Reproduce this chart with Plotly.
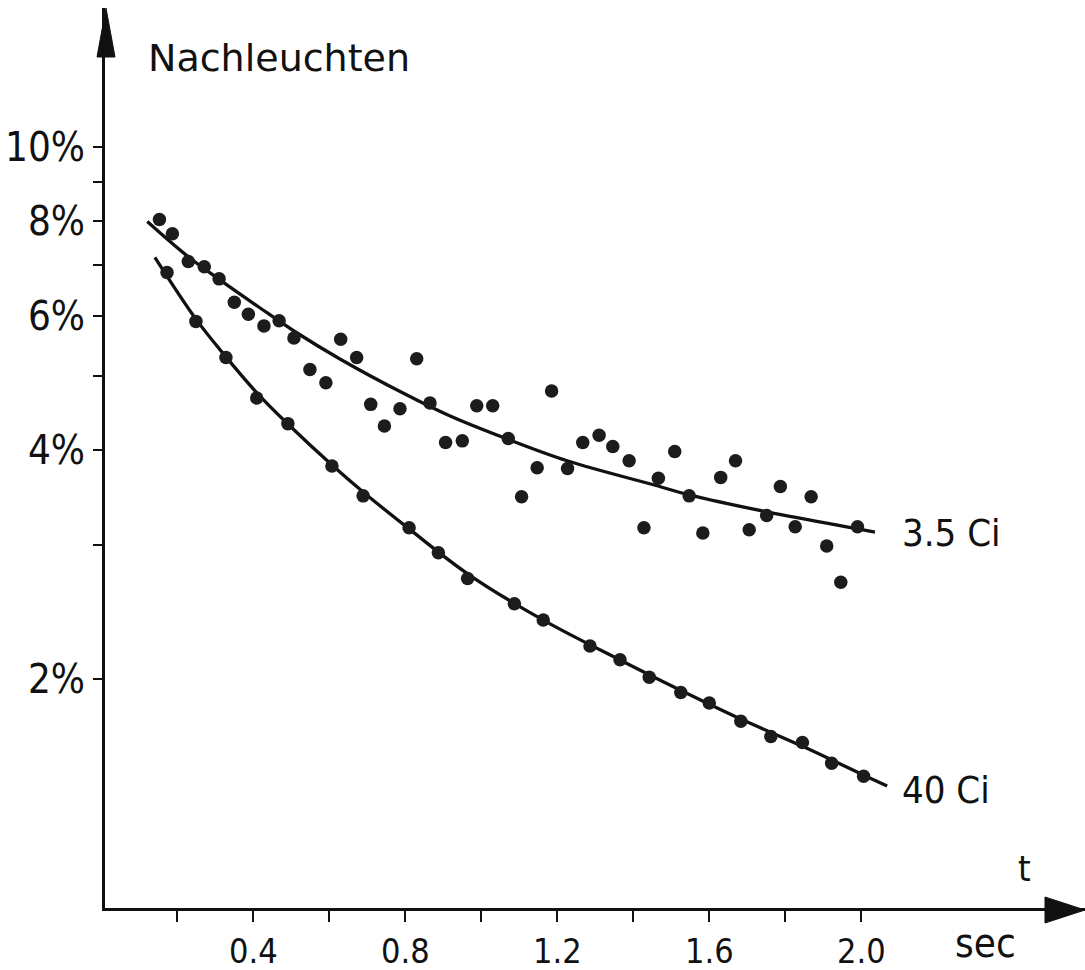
import plotly.graph_objects as go

# ---------------- data ----------------
# 3.5 Ci measurements: time (s) and afterglow (%)
t_35 = [0.153, 0.187, 0.229, 0.271, 0.310, 0.350, 0.387, 0.428, 0.468, 0.507,
        0.549, 0.591, 0.630, 0.672, 0.709, 0.745, 0.786, 0.830, 0.865, 0.906,
        0.950, 0.988, 1.030, 1.071, 1.106, 1.147, 1.185, 1.227, 1.267, 1.310,
        1.346, 1.389, 1.428, 1.466, 1.509, 1.547, 1.583, 1.630, 1.669, 1.705,
        1.751, 1.787, 1.826, 1.868, 1.909, 1.946, 1.990]
v_35 = [8.03, 7.69, 7.07, 6.96, 6.71, 6.25, 6.03, 5.82, 5.91, 5.61,
        5.10, 4.90, 5.59, 5.29, 4.59, 4.30, 4.53, 5.27, 4.61, 4.09,
        4.11, 4.57, 4.57, 4.14, 3.47, 3.79, 4.78, 3.78, 4.09, 4.18,
        4.04, 3.87, 3.16, 3.67, 3.98, 3.48, 3.11, 3.68, 3.87, 3.14,
        3.28, 3.58, 3.17, 3.47, 2.99, 2.68, 3.17]

# 3.5 Ci fitted curve (hand-drawn line, read at points)
tc_35 = [0.121, 0.228, 0.312, 0.418, 0.507, 0.628, 0.794, 0.918, 1.070, 1.228,
         1.465, 1.547, 1.752, 1.991, 2.036]
vc_35 = [7.98, 7.178, 6.69, 6.144, 5.731, 5.266, 4.75, 4.431, 4.13, 3.867,
         3.585, 3.490, 3.315, 3.149, 3.119]

# 40 Ci measurements
t_40 = [0.173, 0.249, 0.328, 0.409, 0.491, 0.607, 0.689, 0.810, 0.887, 0.964,
        1.087, 1.163, 1.286, 1.365, 1.442, 1.525, 1.600, 1.683, 1.762, 1.845,
        1.922, 2.006]
v_40 = [6.84, 5.90, 5.29, 4.68, 4.33, 3.81, 3.48, 3.16, 2.93, 2.71,
        2.51, 2.39, 2.21, 2.12, 2.01, 1.92, 1.86, 1.76, 1.68, 1.65,
        1.55, 1.49]

# 40 Ci fitted curve
tc_40 = [0.141, 0.249, 0.328, 0.410, 0.491, 0.607, 0.689, 0.810, 0.965, 1.162,
         1.365, 1.523, 1.683, 1.844, 2.005, 2.068]
vc_40 = [7.16, 5.94, 5.30, 4.75, 4.325, 3.82, 3.521, 3.149, 2.747, 2.391,
         2.118, 1.934, 1.771, 1.632, 1.496, 1.447]

# axis ticks
x_tickvals = [0.2, 0.4, 0.6, 0.8, 1.0, 1.2, 1.4, 1.6, 1.8, 2.0]
x_ticktext = ["", "0.4", "", "0.8", "", "1.2", "", "1.6", "", "2.0"]
y_tickvals = [2, 3, 4, 5, 6, 7, 8, 9, 10]
y_ticktext = ["2%", "", "4%", "", "6%", "", "8%", "", "10%"]

# ---------------- figure ----------------
W, H = 1085, 970
L, R, T, B = 105, 0, 8, 62
PW, PH = W - L - R, H - T - B

FONT = "DejaVu Sans Condensed, Liberation Sans Narrow, DejaVu Sans, sans-serif"
FONT_WIDE = "DejaVu Sans, sans-serif"
INK = "#111111"


def px(x):
    return (x - L) / PW


def py(y):
    return (H - B - y) / PH


fig = go.Figure()

for tc, vc in ((tc_35, vc_35), (tc_40, vc_40)):
    fig.add_trace(go.Scatter(x=tc, y=vc, mode="lines",
                             line=dict(color=INK, width=3.3, shape="spline", smoothing=1.0),
                             hoverinfo="skip", showlegend=False))

for tt, vv in ((t_35, v_35), (t_40, v_40)):
    fig.add_trace(go.Scatter(x=tt, y=vv, mode="markers",
                             marker=dict(size=13.5, color="#1c1c1c", line=dict(width=0)),
                             showlegend=False))

x0 = (L - 101.3) / 380.0
fig.update_xaxes(range=[x0, x0 + PW / 380.0], showline=True, linewidth=3, linecolor=INK,
                 ticks="outside", ticklen=11, tickwidth=2, tickcolor=INK,
                 tickvals=x_tickvals, ticktext=x_ticktext, showgrid=False, zeroline=False,
                 tickfont=dict(family=FONT, size=34, color=INK), ticklabelstandoff=0,
                 automargin=False)
fig.update_yaxes(type="log", range=[0, PH / 761.0], showline=True, linewidth=3, linecolor=INK,
                 ticks="outside", ticklen=9, tickwidth=2, tickcolor=INK,
                 tickvals=y_tickvals, ticktext=y_ticktext, showgrid=False, zeroline=False,
                 tickfont=dict(family=FONT, size=40, color=INK), ticklabelstandoff=0,
                 automargin=False)

# arrow heads of the axes
fig.add_shape(type="path", xref="paper", yref="paper",
              path=f"M {px(97)} {py(57)} L {px(106)} {py(8)} L {px(115)} {py(57)} Z",
              fillcolor=INK, line=dict(color=INK, width=1))
fig.add_shape(type="path", xref="paper", yref="paper",
              path=f"M {px(1045)} {py(897)} L {px(1085)} {py(910)} L {px(1045)} {py(923)} Z",
              fillcolor=INK, line=dict(color=INK, width=1))

ann = [
    ("Nachleuchten", 279, 58, 38, "center", FONT_WIDE),
    ("3.5 Ci", 900, 533, 38, "left", FONT),
    ("40 Ci", 900, 790, 38, "left", FONT),
    ("t", 1024, 868, 36, "center", FONT),
    ("sec", 985, 943, 40, "center", FONT),
]
for text, ax_, ay_, size, anchor, fam in ann:
    fig.add_annotation(text=text, x=px(ax_), y=py(ay_), xref="paper", yref="paper",
                       showarrow=False, xanchor=anchor, yanchor="middle",
                       font=dict(family=fam, size=size, color=INK))

fig.update_layout(width=W, height=H, margin=dict(l=L, r=R, t=T, b=B),
                  paper_bgcolor="white", plot_bgcolor="white", showlegend=False)

fig.write_html("out.html")
